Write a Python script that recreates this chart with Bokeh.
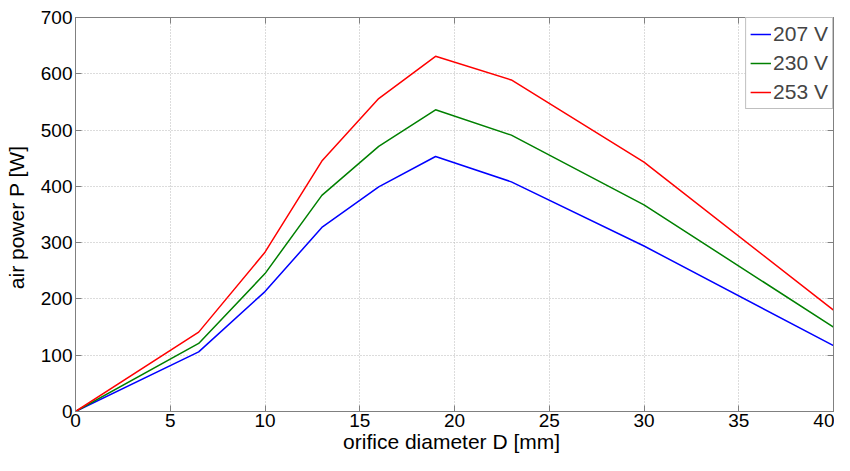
from bokeh.plotting import figure
from bokeh.models import Range1d, LinearAxis, FixedTicker, Legend, LegendItem
from bokeh.embed import file_html
from bokeh.resources import INLINE

diameter = [0, 6.5, 10, 13, 16, 19, 23, 30, 40]
p207 = [0, 106, 213, 327, 399, 453, 408, 294, 117]
p230 = [0, 121, 245, 384, 471, 536, 491, 367, 150]
p253 = [0, 141, 283, 445, 556, 631, 589, 443, 180]
series_labels = ["207 V", "230 V", "253 V"]
series_colors = ["#0000ff", "#008000", "#ff0000"]
x_ticks = [0, 5, 10, 15, 20, 25, 30, 35, 40]
y_ticks = [0, 100, 200, 300, 400, 500, 600, 700]

FONT = "Liberation Sans"
AX = "#808080"

p = figure(width=834, height=455, output_backend="svg", toolbar_location=None,
           x_range=Range1d(0, 40), y_range=Range1d(0, 700),
           min_border_left=75, min_border_top=17, min_border_right=1, min_border_bottom=42)
p.background_fill_color = "white"
p.border_fill_color = "white"
p.outline_line_color = AX
p.outline_line_width = 1

renderers = []
for ys, c in zip([p207, p230, p253], series_colors):
    r = p.line(diameter, ys, line_color=c, line_width=1.5)
    renderers.append(r)

def style_axis(ax):
    ax.axis_line_color = AX
    ax.major_tick_line_color = AX
    ax.major_tick_in = 6
    ax.major_tick_out = 0
    ax.minor_tick_line_color = None
    ax.major_label_text_font = FONT
    ax.major_label_text_font_size = "19px"
    ax.major_label_text_color = "black"
    ax.axis_label_text_font = FONT
    ax.axis_label_text_font_size = "21px"
    ax.axis_label_text_font_style = "normal"
    ax.axis_label_text_color = "black"

style_axis(p.xaxis[0])
style_axis(p.yaxis[0])
p.xaxis.ticker = FixedTicker(ticks=x_ticks)
p.yaxis.ticker = FixedTicker(ticks=y_ticks)
p.xaxis.axis_label = "orifice diameter  D [mm]"
p.yaxis.axis_label = "air power  P [W]"
p.xaxis.major_label_standoff = 2
p.xaxis.axis_label_standoff = 0
p.yaxis.major_label_standoff = 3
p.yaxis.axis_label_standoff = 10

# mirrored tick marks on top and right (labels not drawn)
top = LinearAxis(ticker=FixedTicker(ticks=x_ticks))
right = LinearAxis(ticker=FixedTicker(ticks=y_ticks))
for ax in (top, right):
    style_axis(ax)
    ax.major_label_text_color = None
    ax.major_label_text_font_size = "1px"
    ax.major_label_standoff = 0
p.add_layout(top, "above")
p.add_layout(right, "right")

p.grid.grid_line_color = "#b8b8b8"
p.grid.grid_line_dash = "1 2"
p.grid.grid_line_width = 1
p.xgrid.ticker = FixedTicker(ticks=x_ticks)
p.ygrid.ticker = FixedTicker(ticks=y_ticks)

legend = Legend(items=[LegendItem(label=l, renderers=[r]) for l, r in zip(series_labels, renderers)],
                location="top_right", orientation="vertical")
legend.label_text_font = FONT
legend.label_text_font_size = "21px"
legend.label_standoff = 2
legend.glyph_width = 21
legend.glyph_height = 22
legend.spacing = 5
legend.padding = 4
legend.margin = 0
legend.border_line_color = AX
legend.background_fill_alpha = 1
p.add_layout(legend)

open("out.html", "w").write(file_html(p, INLINE))
